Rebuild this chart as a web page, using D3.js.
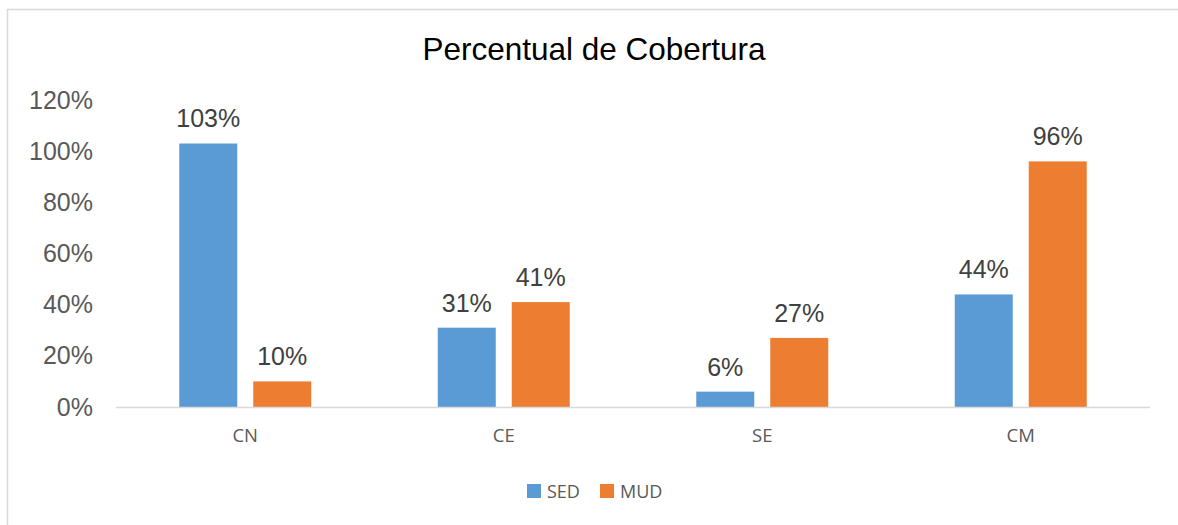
<!DOCTYPE html>
<html>
<head>
<meta charset="utf-8">
<script src="https://cdn.jsdelivr.net/npm/d3@7"></script>
<style>
  body { margin: 0; background: #fff; }
  svg { display: block; }
</style>
</head>
<body>
<svg width="1178" height="525"></svg>
<script>
// Chart data
var categories = ["CN", "CE", "SE", "CM"];
var seriesNames = ["SED", "MUD"];
var sedValues = [1.03, 0.31, 0.06, 0.44];
var mudValues = [0.10, 0.41, 0.27, 0.96];
var yTicks = [0, 0.2, 0.4, 0.6, 0.8, 1.0, 1.2];
var colors = ["#5b9bd5", "#ed7d31"];

var svg = d3.select("svg"),
    width = +svg.attr("width"),
    height = +svg.attr("height");

// chart border (top + left visible)
svg.append("path")
    .attr("d", "M7.5,525 L7.5,9.5 L1178,9.5")
    .attr("fill", "none")
    .attr("stroke", "#d9d9d9")
    .attr("stroke-width", 1.5);

var margin = {left: 116, right: 28},
    y0 = 407;

var x = d3.scaleBand()
    .domain(categories)
    .range([margin.left, width - margin.right]);

var y = d3.scaleLinear()
    .domain([0, 1.2])
    .range([y0, y0 - 307]);

// two bars per category, 58px wide with 16px gap
var xInner = d3.scaleBand()
    .domain(seriesNames)
    .range([0, x.bandwidth()])
    .paddingInner(0.216)
    .paddingOuter(0.855);

// title
svg.append("text")
    .attr("x", 594)
    .attr("y", 60)
    .attr("text-anchor", "middle")
    .style("font-family", "'Liberation Sans', Arial, sans-serif")
    .style("font-size", "31.5px")
    .attr("fill", "#000")
    .text("Percentual de Cobertura");

// y axis labels
var yAxis = d3.axisLeft(y)
    .tickValues(yTicks)
    .tickFormat(d3.format(".0%"))
    .tickSize(0)
    .tickPadding(0);

var gy = svg.append("g")
    .attr("transform", "translate(93,0)")
    .call(yAxis);
gy.select(".domain").remove();
gy.selectAll("text")
    .style("font-family", "'Liberation Sans', Arial, sans-serif")
    .style("font-size", "25px")
    .attr("fill", "#595959");

// bars
var rows = categories.map(function(c, i) {
  return {cat: c, values: [sedValues[i], mudValues[i]]};
});

var groups = svg.append("g")
  .selectAll("g")
  .data(rows)
  .enter().append("g")
    .attr("transform", function(d) { return "translate(" + x(d.cat) + ",0)"; });

groups.selectAll("rect")
  .data(function(d) { return d.values.map(function(v, j) { return {s: seriesNames[j], v: v, j: j}; }); })
  .enter().append("rect")
    .attr("x", function(d) { return xInner(d.s); })
    .attr("width", xInner.bandwidth())
    .attr("y", function(d) { return y(d.v); })
    .attr("height", function(d) { return y0 - y(d.v); })
    .attr("fill", function(d) { return colors[d.j]; });

groups.selectAll("text.lbl")
  .data(function(d) { return d.values.map(function(v, j) { return {s: seriesNames[j], v: v}; }); })
  .enter().append("text")
    .attr("class", "lbl")
    .attr("x", function(d) { return xInner(d.s) + xInner.bandwidth() / 2; })
    .attr("y", function(d) { return y(d.v) - 16; })
    .attr("text-anchor", "middle")
    .style("font-family", "'Liberation Sans', Arial, sans-serif")
    .style("font-size", "25px")
    .attr("fill", "#404040")
    .text(function(d) { return d3.format(".0%")(d.v); });

// baseline
svg.append("line")
    .attr("x1", margin.left)
    .attr("x2", width - margin.right)
    .attr("y1", y0 + 0.5)
    .attr("y2", y0 + 0.5)
    .attr("stroke", "#d9d9d9")
    .attr("stroke-width", 1.5);

// x axis labels
var xAxis = d3.axisBottom(x).tickSize(0).tickPadding(0);
var gx = svg.append("g")
    .attr("transform", "translate(0," + (y0 + 22) + ")")
    .call(xAxis);
gx.select(".domain").remove();
gx.selectAll("text")
    .style("font-family", "'Open Sans', 'Noto Sans', sans-serif")
    .style("font-size", "18.5px")
    .attr("fill", "#595959");

// legend
var legend = svg.append("g").attr("transform", "translate(527,498)");
var legendX = [0, 73];
seriesNames.forEach(function(s, i) {
  legend.append("rect")
      .attr("x", legendX[i])
      .attr("y", -14)
      .attr("width", 14)
      .attr("height", 14)
      .attr("fill", colors[i]);
  legend.append("text")
      .attr("x", legendX[i] + 20)
      .attr("y", 0)
      .style("font-family", "'Open Sans', 'Noto Sans', sans-serif")
      .style("font-size", "18px")
      .attr("fill", "#595959")
      .text(s);
});
</script>
</body>
</html>
